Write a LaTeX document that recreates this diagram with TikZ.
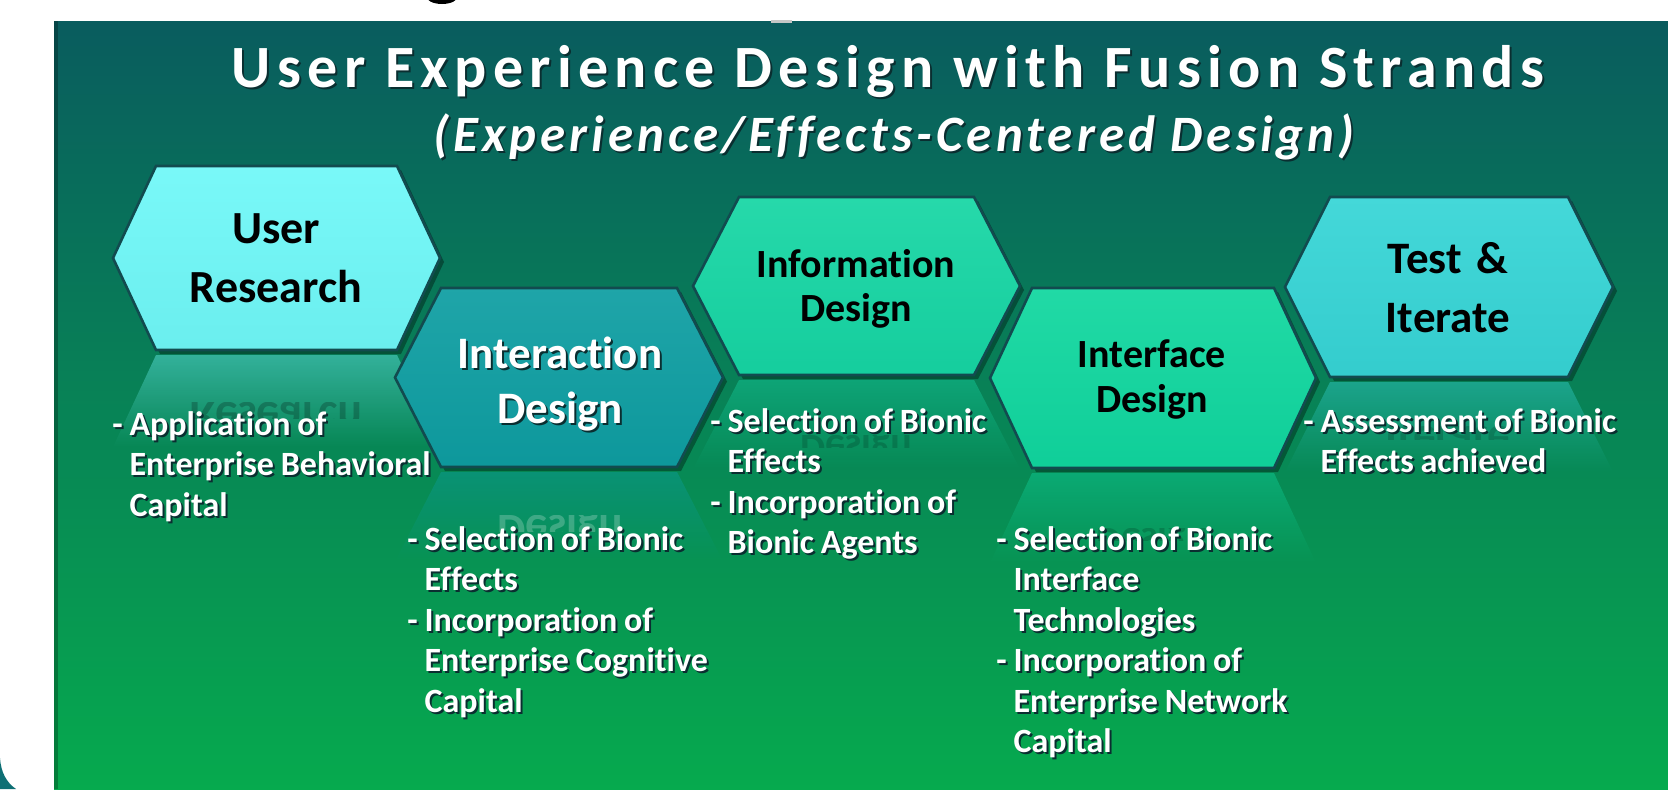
\documentclass[tikz,border=0pt]{standalone}
\usepackage{fontspec}
\setmainfont{Carlito}[Ligatures={NoCommon,NoContextual}]
\newfontfamily\titlefont{Carlito}[LetterSpace=10.5, Ligatures={NoCommon,NoContextual}]
\newfontfamily\subfont{Carlito}[LetterSpace=8, Ligatures={NoCommon,NoContextual}]
\usetikzlibrary{fadings}
\definecolor{bgtop}{HTML}{095C5E}
\definecolor{bgmid}{HTML}{0B7A6A}
\definecolor{bgbot}{HTML}{06AA4E}
\definecolor{hexA}{HTML}{6FF8F8}
\definecolor{hexB}{HTML}{0E9EA2}
\definecolor{hexC}{HTML}{16D6A4}
\definecolor{hexD}{HTML}{10D79F}
\definecolor{hexE}{HTML}{36D5D6}
\definecolor{hexline}{HTML}{124B4F}
\definecolor{shadowc}{HTML}{0A2E30}
\definecolor{cornerteal}{HTML}{0E6F74}
\newcommand\shd[1]{\makebox[0pt][l]{\kern1pt\raisebox{-1pt}{\textcolor{shadowc}{#1}}}#1}
\newcommand\tightsp{\spaceskip=0.2em plus 0.05em\relax}
% #1 left, #2 top, #3 right, #4 bottom, #5 inset, #6 colour
\newcommand\HexRefl[6]{%
  \fill[#6, opacity=0.42, path fading=south] (#1+#5,#4+5) -- (#3-#5,#4+5) -- (#3,{#4+5+(#4-#2)/2}) -- (#1,{#4+5+(#4-#2)/2}) -- cycle;}
\newcommand\HexTile[6]{%
  \fill[black, opacity=0.35] (#1+4,{(#2+#4)/2+4}) -- (#1+#5+4,#2+4) -- (#3-#5+4,#2+4) -- (#3+4,{(#2+#4)/2+4}) -- (#3-#5+4,#4+4) -- (#1+#5+4,#4+4) -- cycle;
  \path[top color=#6!93!white, middle color=#6, bottom color=#6!96!black, draw=hexline, line width=1.3pt]
    (#1,{(#2+#4)/2}) -- (#1+#5,#2) -- (#3-#5,#2) -- (#3,{(#2+#4)/2}) -- (#3-#5,#4) -- (#1+#5,#4) -- cycle;}
\begin{document}
\begin{tikzpicture}[x=0.5pt,y=-0.5pt,
  bul/.style={text=white, font=\fontsize{17}{20.25}\selectfont\bfseries, align=left, anchor=base west, inner sep=0pt, text width=200pt},
  hexttl/.style={font=\bfseries, align=center, anchor=base, inner sep=0pt, text width=160pt},
  mirr/.style={yscale=-1, transform shape, anchor=base, inner sep=0pt, opacity=0.16, font=\bfseries}]
\useasboundingbox (0,0) rectangle (1668,789);
\fill[white] (0,0) rectangle (1668,789);
\shade[top color=bgtop, middle color=bgmid, bottom color=bgbot] (54,21) rectangle (1668,789);
\fill[black, opacity=0.25] (54,21) rectangle (58,789);
\fill[cornerteal] (0,758) .. controls (1,772) and (6,782) .. (16,789) -- (0,789) -- cycle;
\fill[black] (442,-4) ellipse [x radius=16, y radius=8];
\fill[gray!45] (771,20) rectangle (792,23);

% titles
\node[anchor=base, inner sep=0pt, text=white, font=\titlefont\bfseries\fontsize{30}{36}\selectfont] (title) at (888,87) {\shd{User Experience Design with Fusion Strands}};
\node[anchor=base, inner sep=0pt, text=white, font=\subfont\bfseries\itshape\fontsize{25.5}{30}\selectfont] (subtitle) at (894,151) {\shd{(Experience/Effects-Centered Design)}};

% reflections
\HexRefl{113}{166}{440}{350}{43}{hexA}
\HexRefl{395}{288}{723}{467}{46}{hexB}
\HexRefl{693}{197}{1020}{375}{46}{hexC}
\HexRefl{990}{288}{1316}{468}{42}{hexD}
\HexRefl{1285}{197}{1613}{377}{45}{hexE}

% mirrored text in reflections
\begin{scope}\clip (150,402) rectangle (400,418);
\node[mirr, opacity=0.22, font=\bfseries\fontsize{23}{28}\selectfont] (m1) at (276,402) {Research};\end{scope}
\begin{scope}\clip (440,515) rectangle (680,531);
\node[mirr, opacity=0.22, text=white, font=\bfseries\fontsize{22.5}{28}\selectfont] (m2) at (560,515) {Design};\end{scope}
\begin{scope}\clip (740,435) rectangle (975,447);
\node[mirr, font=\bfseries\fontsize{20}{24}\selectfont] (m3) at (856,435) {Design};\end{scope}
\begin{scope}\clip (1030,528) rectangle (1272,540);
\node[mirr, font=\bfseries\fontsize{20}{24}\selectfont] (m4) at (1152,528) {Design};\end{scope}
\begin{scope}\clip (1330,426) rectangle (1570,439);
\node[mirr, font=\bfseries\fontsize{22.5}{28}\selectfont] (m5) at (1448,426) {Iterate};\end{scope}

% hexagons
\HexTile{113}{166}{440}{350}{43}{hexA}
\HexTile{395}{288}{723}{467}{46}{hexB}
\HexTile{693}{197}{1020}{375}{46}{hexC}
\HexTile{990}{288}{1316}{468}{42}{hexD}
\HexTile{1285}{197}{1613}{377}{45}{hexE}

% hexagon titles
\node[hexttl, font=\bfseries\fontsize{23}{29.5}\selectfont] (h1) at (276,243) {User\\Research};
\node[hexttl, text=white, font=\bfseries\fontsize{22.5}{27.5}\selectfont] (h2) at (560,368) {\shd{Interaction}\\\shd{Design}};
\node[hexttl, font=\bfseries\fontsize{20}{22}\selectfont] (h3) at (856,277) {Information\\Design};
\node[hexttl, font=\bfseries\fontsize{20}{22.5}\selectfont] (h4) at (1152,367) {Interface\\Design};
\node[hexttl, font=\bfseries\fontsize{22.5}{29.5}\selectfont] (h5) at (1448,273) {Test \&\\Iterate};

% bullet texts
\node[bul] (b1) at (112,435) {\tightsp\shd{- Application of}\\\phantom{- }\shd{Enterprise Behavioral}\\\phantom{- }\shd{Capital}};
\node[bul] (b2) at (407,550) {\tightsp\shd{- Selection of Bionic}\\\phantom{- }\shd{Effects}\\\shd{- Incorporation of}\\\phantom{- }\shd{Enterprise Cognitive}\\\phantom{- }\shd{Capital}};
\node[bul] (b3) at (710,432) {\tightsp\shd{- Selection of Bionic}\\\phantom{- }\shd{Effects}\\\shd{- Incorporation of}\\\phantom{- }\shd{Bionic Agents}};
\node[bul] (b4) at (996,550) {\tightsp\shd{- Selection of Bionic}\\\phantom{- }\shd{Interface}\\\phantom{- }\shd{Technologies}\\\shd{- Incorporation of}\\\phantom{- }\shd{Enterprise Network}\\\phantom{- }\shd{Capital}};
\node[bul] (b5) at (1303,432) {\tightsp\shd{- Assessment of Bionic}\\\phantom{- }\shd{Effects achieved}};
\end{tikzpicture}
\end{document}
